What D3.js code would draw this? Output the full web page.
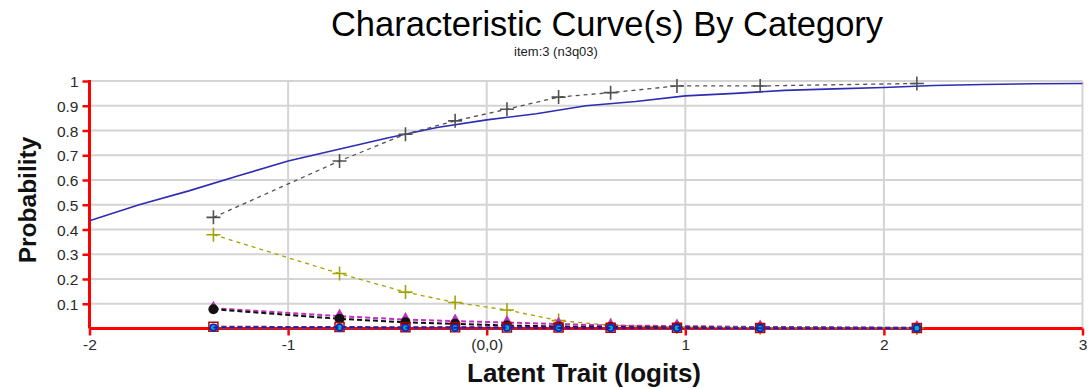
<!DOCTYPE html>
<html>
<head>
<meta charset="utf-8">
<script src="https://cdn.jsdelivr.net/npm/d3@7"></script>
<style>
  html, body { margin: 0; padding: 0; background: #fff; }
  svg { display: block; font-family: "Liberation Sans", Arial, sans-serif; }
</style>
</head>
<body>
<svg id="chart" width="1089" height="389"></svg>
<script>
// ---- data ----
const titleText = "Characteristic Curve(s) By Category";
const subtitleText = "item:3 (n3q03)";
const xAxisTitle = "Latent Trait (logits)";
const yAxisTitle = "Probability";

const xTicks = [-2, -1, 0, 1, 2, 3];
const xTickLabels = ["-2", "-1", "(0,0)", "1", "2", "3"];
const yTicks = [0.1, 0.2, 0.3, 0.4, 0.5, 0.6, 0.7, 0.8, 0.9, 1];
const yTickLabels = ["0.1", "0.2", "0.3", "0.4", "0.5", "0.6", "0.7", "0.8", "0.9", "1"];

// model curve (solid blue)
const curveX = [-2, -1.75, -1.5, -1.25, -1, -0.75, -0.5, -0.25, 0, 0.25, 0.5, 0.75, 1, 1.25, 1.5, 1.75, 2, 2.25, 2.5, 2.75, 3];
const curveP = [0.435, 0.50, 0.556, 0.617, 0.677, 0.723, 0.77, 0.812, 0.843, 0.868, 0.90, 0.917, 0.94, 0.95, 0.962, 0.968, 0.974, 0.982, 0.986, 0.989, 0.99];

// observed points (category measures)
const obsX = [-1.376, -0.741, -0.409, -0.159, 0.102, 0.362, 0.624, 0.958, 1.377, 2.166];
const obsGray    = [0.449, 0.677, 0.785, 0.839, 0.886, 0.935, 0.953, 0.980, 0.980, 0.990];
const obsOlive   = [0.379, 0.222, 0.147, 0.105, 0.075, 0.032, 0.013, 0.006, 0.003, 0.002];
const obsMagenta = [0.082, 0.050, 0.036, 0.030, 0.024, 0.018, 0.012, 0.010, 0.006, 0.004];
const obsBlack   = [0.078, 0.039, 0.025, 0.019, 0.012, 0.008, 0.006, 0.004, 0.003, 0.002];
const obsRed     = [0.007, 0.006, 0.005, 0.005, 0.004, 0.004, 0.003, 0.003, 0.002, 0.002];
const obsCyan    = [0.003, 0.003, 0.003, 0.002, 0.002, 0.002, 0.002, 0.001, 0.001, 0.001];
const obsBlue    = [0.004, 0.004, 0.003, 0.003, 0.003, 0.002, 0.002, 0.002, 0.001, 0.001];

// ---- drawing ----
const svg = d3.select("#chart");
const W = 1089, H = 389;
const m = { left: 89.5, right: 1082.5, top: 81, bottom: 328.5 };

const x = d3.scaleLinear().domain([-2, 3]).range([m.left, m.right]);
const y = d3.scaleLinear().domain([0, 1]).range([m.bottom, m.top]);

svg.append("rect").attr("width", W).attr("height", H).attr("fill", "#fff");

// gridlines
const grid = svg.append("g");
grid.selectAll("line.h").data(yTicks).join("line")
  .attr("x1", m.left).attr("x2", m.right)
  .attr("y1", d => y(d)).attr("y2", d => y(d))
  .attr("stroke", "#d4d4d4").attr("stroke-width", 2);
grid.selectAll("line.v").data(xTicks.slice(1)).join("line")
  .attr("y1", m.top).attr("y2", m.bottom)
  .attr("x1", d => x(d)).attr("x2", d => x(d))
  .attr("stroke", "#d4d4d4").attr("stroke-width", 2);

// red axes
const yAxis = d3.axisLeft(y).tickValues(yTicks).tickSize(7)
  .tickFormat((d, i) => yTickLabels[i]);
const gy = svg.append("g").attr("transform", `translate(${m.left},0)`).call(yAxis);
gy.select(".domain").remove();
gy.selectAll(".tick line").attr("stroke", "#ff0000").attr("stroke-width", 2.5);
gy.selectAll(".tick text").attr("font-size", 15.5).attr("fill", "#2a2a2a")
  .attr("font-family", "Liberation Sans, Arial, sans-serif").attr("x", -11).attr("dy", "0.36em");

const xAxis = d3.axisBottom(x).tickValues(xTicks).tickSize(7)
  .tickFormat((d, i) => xTickLabels[i]);
const gx = svg.append("g").attr("transform", `translate(0,${m.bottom})`).call(xAxis);
gx.select(".domain").remove();
gx.selectAll(".tick line").attr("stroke", "#ff0000").attr("stroke-width", 2.5);
gx.selectAll(".tick text").attr("font-size", 15.5).attr("fill", "#2a2a2a")
  .attr("font-family", "Liberation Sans, Arial, sans-serif").attr("y", 10);

svg.append("line").attr("x1", m.left).attr("x2", m.left).attr("y1", m.top - 1).attr("y2", m.bottom)
  .attr("stroke", "#ff0000").attr("stroke-width", 3);
svg.append("line").attr("x1", m.left).attr("x2", m.right).attr("y1", m.bottom).attr("y2", m.bottom)
  .attr("stroke", "#ff0000").attr("stroke-width", 3);

// model curve
const line = d3.line().x(d => x(d[0])).y(d => y(d[1]));
svg.append("path").datum(curveX.map((v, i) => [v, curveP[i]]))
  .attr("d", line).attr("fill", "none").attr("stroke", "#2c2cb4").attr("stroke-width", 1.6);

// observed series
const series = [
  { vals: obsOlive, color: "#a3a300", dash: "4,4", marker: "plus" },
  { vals: obsGray, color: "#505050", dash: "4,4", marker: "plus" },
  { vals: obsMagenta, color: "#c030c0", dash: "5,3", marker: "triangle" },
  { vals: obsBlack, color: "#111111", dash: "5,3", marker: "circle" },
  { vals: obsRed, color: "#b00000", dash: "5,3", marker: "square" },
  { vals: obsCyan, color: "#00b4b4", dash: "5,3", marker: "diamond" },
  { vals: obsBlue, color: "#1a1ac8", dash: "5,3", marker: "ocircle" }
];

series.forEach(s => {
  const pts = obsX.map((v, i) => [v, s.vals[i]]);
  svg.append("path").datum(pts).attr("d", line)
    .attr("fill", "none").attr("stroke", s.color).attr("stroke-width", s.marker === "plus" ? 1.3 : 2)
    .attr("stroke-dasharray", s.dash);
  const g = svg.append("g");
  pts.forEach(p => {
    const cx = x(p[0]), cy = y(p[1]);
    if (s.marker === "plus") {
      g.append("path").attr("d", `M${cx - 7},${cy}H${cx + 7}M${cx},${cy - 7}V${cy + 7}`)
        .attr("stroke", s.color).attr("stroke-width", 1.6).attr("fill", "none");
    } else if (s.marker === "triangle") {
      g.append("path").attr("d", d3.symbol(d3.symbolTriangle, 40)())
        .attr("transform", `translate(${cx},${cy - 2})`).attr("fill", s.color);
    } else if (s.marker === "circle") {
      g.append("circle").attr("cx", cx).attr("cy", cy).attr("r", 5).attr("fill", s.color);
    } else if (s.marker === "square") {
      g.append("rect").attr("x", cx - 4.5).attr("y", cy - 4.5).attr("width", 9).attr("height", 9)
        .attr("fill", "none").attr("stroke", s.color).attr("stroke-width", 1.5);
    } else if (s.marker === "diamond") {
      g.append("rect").attr("x", cx - 3.5).attr("y", cy - 3.5).attr("width", 7).attr("height", 7)
        .attr("fill", s.color);
    } else if (s.marker === "ocircle") {
      g.append("circle").attr("cx", cx).attr("cy", cy).attr("r", 3.2)
        .attr("fill", "none").attr("stroke", s.color).attr("stroke-width", 1.5);
    }
  });
});

// titles
svg.append("text").attr("x", 607).attr("y", 36).attr("text-anchor", "middle")
  .attr("font-size", 34.5).attr("fill", "#000").text(titleText);
svg.append("text").attr("x", 556).attr("y", 56).attr("text-anchor", "middle")
  .attr("font-size", 13).attr("fill", "#222").text(subtitleText);
svg.append("text").attr("x", 584).attr("y", 382).attr("text-anchor", "middle")
  .attr("font-size", 26).attr("font-weight", "bold").attr("fill", "#111").text(xAxisTitle);
svg.append("text").attr("transform", `translate(36,${200}) rotate(-90)`).attr("text-anchor", "middle")
  .attr("font-size", 24.5).attr("font-weight", "bold").attr("fill", "#111").text(yAxisTitle);
</script>
</body>
</html>
